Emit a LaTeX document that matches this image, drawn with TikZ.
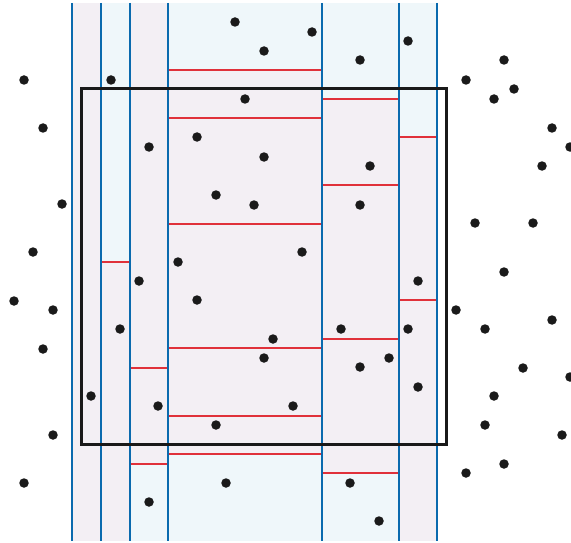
\documentclass[tikz,border=0pt]{standalone}
\definecolor{pinkfill}{HTML}{F3EFF4}
\definecolor{bluefill}{HTML}{EFF7FA}
\definecolor{vline}{HTML}{0A6AAE}
\definecolor{hline}{HTML}{E0313A}
\definecolor{dotc}{HTML}{1A1A1A}
\begin{document}
\begin{tikzpicture}[x=1pt,y=-1pt,
  dot/.style={circle,fill=dotc,inner sep=0pt,minimum size=9.5pt},
  cut/.style={draw=hline,line width=2pt},
  slab/.style={draw=vline,line width=2pt},
  frame/.style={draw=black!90,line width=3pt}]
\useasboundingbox (0,0) rectangle (571,543);
% fills
\fill[pinkfill] (72,3) rectangle (101,541);
\fill[bluefill] (101,3) rectangle (130,262);
\fill[pinkfill] (101,262) rectangle (130,541);
\fill[pinkfill] (130,3) rectangle (168,463.5);
\fill[bluefill] (130,463.5) rectangle (168,541);
\fill[bluefill] (168,3) rectangle (322,70);
\fill[pinkfill] (168,70) rectangle (322,454);
\fill[bluefill] (168,454) rectangle (322,541);
\fill[bluefill] (322,3) rectangle (399,99);
\fill[pinkfill] (322,99) rectangle (399,473);
\fill[bluefill] (322,473) rectangle (399,541);
\fill[bluefill] (399,3) rectangle (437,137);
\fill[pinkfill] (399,137) rectangle (437,541);
% red cuts
\foreach \y in {262} \draw[cut] (101,\y) -- (130,\y);
\foreach \y in {367.5,463.5} \draw[cut] (130,\y) -- (168,\y);
\foreach \y in {70,118,223.5,348,415.5,454} \draw[cut] (168,\y) -- (322,\y);
\foreach \y in {99,185,339,473} \draw[cut] (322,\y) -- (399,\y);
\foreach \y in {137,300} \draw[cut] (399,\y) -- (437,\y);
% blue slab lines
\foreach \x [count=\i] in {72,101,130,168,322,399,437} {
  \coordinate (t\i) at (\x,3);
  \coordinate (b\i) at (\x,541);
  \draw[slab] (t\i) -- (b\i);
}
% query square
\node[frame,rectangle,minimum width=365pt,minimum height=355pt,inner sep=0pt] (sq) at (263.5,266.5) {};
% points
\foreach \px/\py [count=\i] in {
 24/80, 43/128, 62/204, 33/252, 14/301, 53/310, 43/349, 91/396, 53/435, 24/483,
 111/80, 149/147, 139/281, 120/329, 178/262, 197/300, 158/406, 149/502,
 235/22, 264/51, 312/32, 360/60, 408/41, 245/99, 197/137, 264/157, 216/195, 254/205,
 302/252, 273/339, 264/358, 293/406, 216/425, 226/483,
 370/166, 360/205, 341/329, 360/367, 389/358, 408/329, 418/281, 418/387, 350/483, 379/521,
 466/80, 504/60, 494/99, 514/89, 552/128, 570/147, 542/166, 475/223, 533/223, 504/272,
 456/310, 485/329, 552/320, 523/368, 570/377, 494/396, 485/425, 562/435, 466/473, 504/464}
  \node[dot] (p\i) at (\px,\py) {};
\end{tikzpicture}
\end{document}
